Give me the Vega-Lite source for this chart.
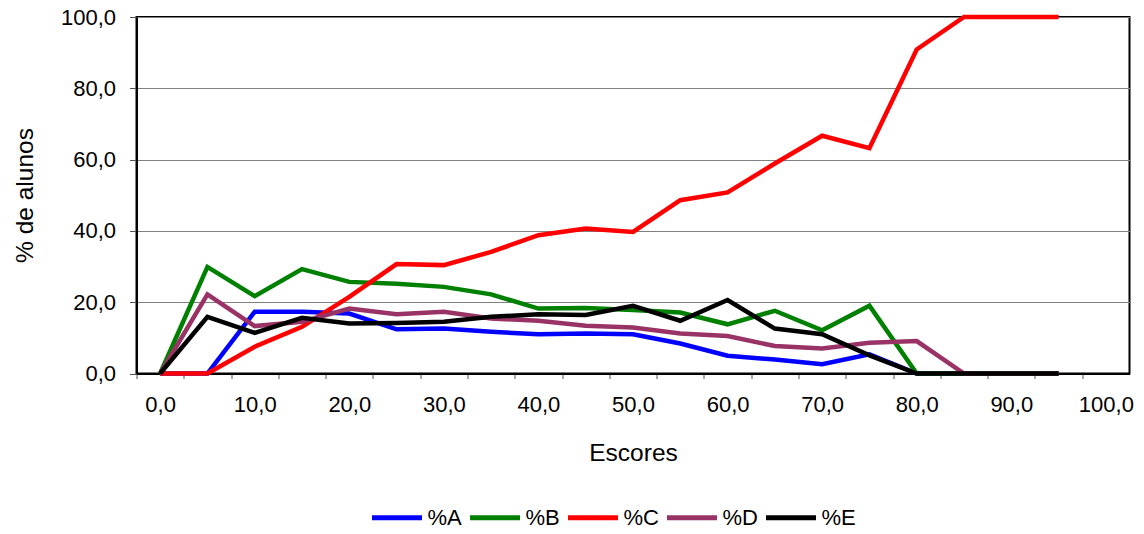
{
  "$schema": "https://vega.github.io/schema/vega-lite/v6.json",
  "autosize": {"type": "none"},
  "padding": {"left": 136.5, "top": 17, "right": 14.5, "bottom": 160.5},
  "width": 993,
  "height": 356.5,
  "background": "white",
  "config": {
    "font": "Liberation Sans",
    "view": {"stroke": "#000000", "strokeWidth": 2},
    "axis": {"labelColor": "#000000", "titleColor": "#000000", "titleFontWeight": "normal"}
  },
  "data": {
    "values": [
      {"x": 0, "series": "%A", "value": 0}, {"x": 5, "series": "%A", "value": 0}, {"x": 10, "series": "%A", "value": 17.3}, {"x": 15, "series": "%A", "value": 17.3}, {"x": 20, "series": "%A", "value": 16.8}, {"x": 25, "series": "%A", "value": 12.4}, {"x": 30, "series": "%A", "value": 12.6}, {"x": 35, "series": "%A", "value": 11.7}, {"x": 40, "series": "%A", "value": 11.0}, {"x": 45, "series": "%A", "value": 11.2}, {"x": 50, "series": "%A", "value": 11.0}, {"x": 55, "series": "%A", "value": 8.4}, {"x": 60, "series": "%A", "value": 5.0}, {"x": 65, "series": "%A", "value": 3.9}, {"x": 70, "series": "%A", "value": 2.6}, {"x": 75, "series": "%A", "value": 5.4}, {"x": 80, "series": "%A", "value": 0}, {"x": 85, "series": "%A", "value": 0}, {"x": 90, "series": "%A", "value": 0}, {"x": 95, "series": "%A", "value": 0},
      {"x": 0, "series": "%B", "value": 0}, {"x": 5, "series": "%B", "value": 29.9}, {"x": 10, "series": "%B", "value": 21.7}, {"x": 15, "series": "%B", "value": 29.3}, {"x": 20, "series": "%B", "value": 25.7}, {"x": 25, "series": "%B", "value": 25.2}, {"x": 30, "series": "%B", "value": 24.3}, {"x": 35, "series": "%B", "value": 22.2}, {"x": 40, "series": "%B", "value": 18.2}, {"x": 45, "series": "%B", "value": 18.4}, {"x": 50, "series": "%B", "value": 17.8}, {"x": 55, "series": "%B", "value": 17.1}, {"x": 60, "series": "%B", "value": 13.8}, {"x": 65, "series": "%B", "value": 17.6}, {"x": 70, "series": "%B", "value": 12.1}, {"x": 75, "series": "%B", "value": 19.0}, {"x": 80, "series": "%B", "value": 0}, {"x": 85, "series": "%B", "value": 0}, {"x": 90, "series": "%B", "value": 0}, {"x": 95, "series": "%B", "value": 0},
      {"x": 0, "series": "%C", "value": 0}, {"x": 5, "series": "%C", "value": 0}, {"x": 10, "series": "%C", "value": 7.5}, {"x": 15, "series": "%C", "value": 13.1}, {"x": 20, "series": "%C", "value": 21.5}, {"x": 25, "series": "%C", "value": 30.7}, {"x": 30, "series": "%C", "value": 30.4}, {"x": 35, "series": "%C", "value": 34.1}, {"x": 40, "series": "%C", "value": 38.8}, {"x": 45, "series": "%C", "value": 40.7}, {"x": 50, "series": "%C", "value": 39.7}, {"x": 55, "series": "%C", "value": 48.6}, {"x": 60, "series": "%C", "value": 50.8}, {"x": 65, "series": "%C", "value": 58.9}, {"x": 70, "series": "%C", "value": 66.7}, {"x": 75, "series": "%C", "value": 63.2}, {"x": 80, "series": "%C", "value": 90.9}, {"x": 85, "series": "%C", "value": 100}, {"x": 90, "series": "%C", "value": 100}, {"x": 95, "series": "%C", "value": 100},
      {"x": 0, "series": "%D", "value": 0}, {"x": 5, "series": "%D", "value": 22.2}, {"x": 10, "series": "%D", "value": 13.3}, {"x": 15, "series": "%D", "value": 14.5}, {"x": 20, "series": "%D", "value": 18.2}, {"x": 25, "series": "%D", "value": 16.6}, {"x": 30, "series": "%D", "value": 17.3}, {"x": 35, "series": "%D", "value": 15.4}, {"x": 40, "series": "%D", "value": 14.8}, {"x": 45, "series": "%D", "value": 13.4}, {"x": 50, "series": "%D", "value": 12.9}, {"x": 55, "series": "%D", "value": 11.2}, {"x": 60, "series": "%D", "value": 10.5}, {"x": 65, "series": "%D", "value": 7.7}, {"x": 70, "series": "%D", "value": 7.0}, {"x": 75, "series": "%D", "value": 8.6}, {"x": 80, "series": "%D", "value": 9.1}, {"x": 85, "series": "%D", "value": 0}, {"x": 90, "series": "%D", "value": 0}, {"x": 95, "series": "%D", "value": 0},
      {"x": 0, "series": "%E", "value": 0}, {"x": 5, "series": "%E", "value": 15.9}, {"x": 10, "series": "%E", "value": 11.4}, {"x": 15, "series": "%E", "value": 15.6}, {"x": 20, "series": "%E", "value": 14.0}, {"x": 25, "series": "%E", "value": 14.2}, {"x": 30, "series": "%E", "value": 14.5}, {"x": 35, "series": "%E", "value": 15.9}, {"x": 40, "series": "%E", "value": 16.6}, {"x": 45, "series": "%E", "value": 16.4}, {"x": 50, "series": "%E", "value": 19.0}, {"x": 55, "series": "%E", "value": 14.8}, {"x": 60, "series": "%E", "value": 20.6}, {"x": 65, "series": "%E", "value": 12.6}, {"x": 70, "series": "%E", "value": 11.0}, {"x": 75, "series": "%E", "value": 5.1}, {"x": 80, "series": "%E", "value": 0}, {"x": 85, "series": "%E", "value": 0}, {"x": 90, "series": "%E", "value": 0}, {"x": 95, "series": "%E", "value": 0}
    ]
  },
  "mark": {"type": "line", "strokeWidth": 4.5, "clip": false},
  "encoding": {
    "x": {
      "field": "x",
      "type": "quantitative",
      "scale": {"domain": [-2.5, 102.5], "nice": false, "zero": false},
      "axis": {
        "title": "Escores",
        "titleFontSize": 24.5,
        "titleX": 496.5,
        "titleY": 87,
        "titleBaseline": "alphabetic",
        "titleAlign": "center",
        "values": [0, 5, 10, 15, 20, 25, 30, 35, 40, 45, 50, 55, 60, 65, 70, 75, 80, 85, 90, 95, 100],
        "labelExpr": "datum.value % 10 == 0 ? replace(format(datum.value, '.1f'), '.', ',') : ''",
        "labelFontSize": 22,
        "labelBaseline": "alphabetic",
        "labelPadding": 33,
        "labelFlush": false,
        "labelOverlap": false,
        "tickOffset": -23.64,
        "labelOffset": 23.64,
        "tickSize": 5,
        "tickColor": "#555555",
        "domainColor": "#000000",
        "domainWidth": 2,
        "grid": false
      }
    },
    "y": {
      "field": "value",
      "type": "quantitative",
      "scale": {"domain": [0, 100], "nice": false},
      "axis": {
        "title": "% de alunos",
        "titleFontSize": 24.5,
        "titleX": -104.5,
        "titleY": 178,
        "titleAngle": -90,
        "titleAlign": "center",
        "titleBaseline": "alphabetic",
        "values": [0, 20, 40, 60, 80, 100],
        "labelExpr": "replace(format(datum.value, '.1f'), '.', ',')",
        "labelFontSize": 22,
        "labelPadding": 14,
        "labelFlush": false,
        "labelOverlap": false,
        "tickSize": 7,
        "tickColor": "#555555",
        "domainColor": "#000000",
        "domainWidth": 2,
        "grid": true,
        "gridColor": "#808080",
        "gridWidth": 1
      }
    },
    "color": {
      "field": "series",
      "type": "nominal",
      "scale": {"domain": ["%A", "%B", "%C", "%D", "%E"], "range": ["#0000FF", "#008000", "#FF0000", "#993366", "#000000"]},
      "legend": {
        "title": null,
        "orient": "none",
        "direction": "horizontal",
        "legendX": 233,
        "legendY": 473,
        "symbolType": "stroke",
        "symbolSize": 2500,
        "symbolStrokeWidth": 5,
        "labelFontSize": 22,
        "labelColor": "#000000",
        "labelOffset": 3,
        "columnPadding": -3
      }
    }
  }
}
